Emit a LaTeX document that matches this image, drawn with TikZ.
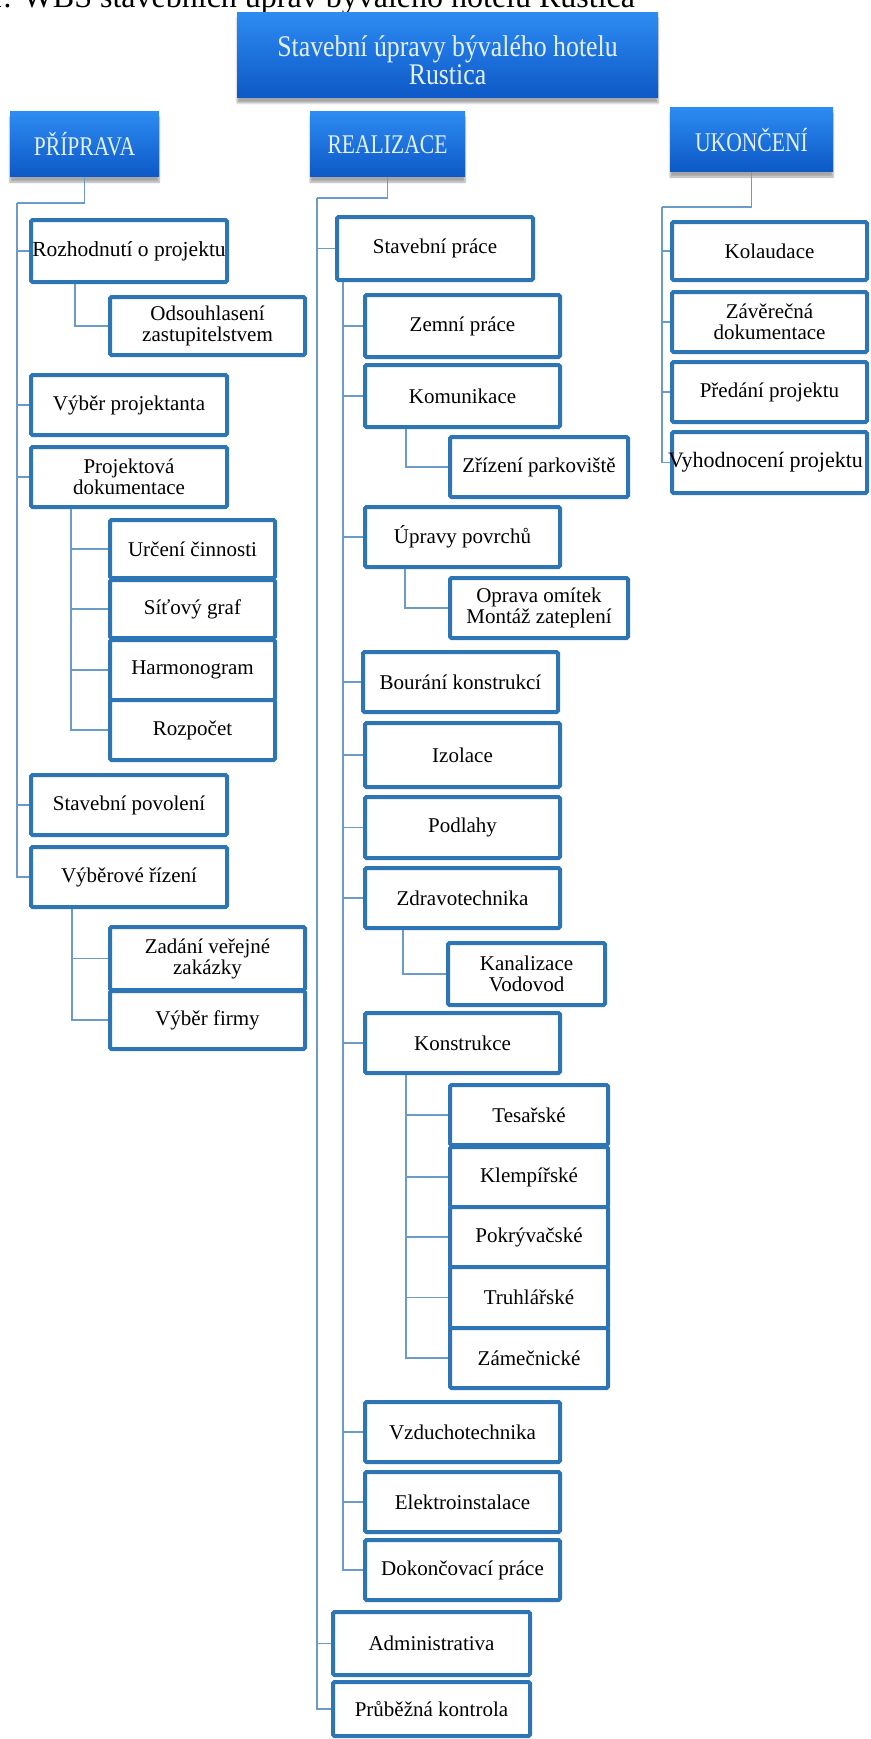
\documentclass[tikz,border=0pt]{standalone}
\usepackage{fontspec}
\setmainfont{Liberation Serif}
\usepackage{graphicx}
\usetikzlibrary{shadows.blur,calc}
\definecolor{bord}{HTML}{2E75B6}
\definecolor{conncol}{HTML}{6C9CC6}
\definecolor{hdtop}{HTML}{2D8BF2}
\definecolor{hdbot}{HTML}{0D58C6}
\definecolor{hdtext}{HTML}{E4F0FF}
\tikzset{
  box/.style={draw=bord, line width=4pt, fill=white, rounded corners=1.5pt, inner sep=0pt,
    font=\fontsize{21}{21}\selectfont, align=center, text=black},
  hdr/.style={inner sep=0pt, top color=hdtop, bottom color=hdbot, text=hdtext,
    blur shadow={shadow blur steps=6, shadow xshift=0pt, shadow yshift=-5pt, shadow opacity=35}},
  conn/.style={draw=conncol, line width=1.4pt},
}
\newcommand\bx[6]{\node[box, minimum width={#4-#2}, minimum height={#5-#3}] (#1) at ({(#2+#4)/2},{(#3+#5)/2}) {#6};}
\newcommand\hx[6]{\node[hdr, minimum width={#4-#2}, minimum height={#5-#3}] (#1) at ({(#2+#4)/2},{(#3+#5)/2}) {#6};}
\newcommand\hd[1]{\scalebox{0.8}[1]{\fontsize{27}{27}\selectfont #1}}
\begin{document}
\begin{tikzpicture}[x=1pt,y=-1pt]
\useasboundingbox (0,0) rectangle (870,1739);
% caption (cut off at top)
\node[anchor=base west, inner sep=0pt, font=\fontsize{32}{32}\selectfont] (cap) at (-13,8) {1: WBS stavebních úprav bývalého hotelu Rustica};
% headers
\hx{title}{237}{13}{658}{98}{\raisebox{-9pt}[\height][\depth]{\scalebox{0.86}[1]{\fontsize{30}{27}\selectfont\begin{tabular}{@{}c@{}}Stavební úpravy bývalého hotelu\\Rustica\end{tabular}}}}
\hx{prip}{10}{112}{159}{177}{\hd{PŘÍPRAVA}}
\hx{real}{310}{112}{465}{177}{\hd{REALIZACE}}
\hx{ukon}{670}{108}{833}{172}{\hd{UKONČENÍ}}
% left column
\bx{rozh}{31}{220}{227}{282}{\makebox[0pt]{\fontsize{21.5}{21}\selectfont Rozhodnutí o projektu}}
\bx{odso}{110}{297}{305}{355}{Odsouhlasení\\zastupitelstvem}
\bx{vybp}{31}{375}{227}{435}{Výběr projektanta}
\bx{proj}{31}{447}{227}{507}{Projektová\\dokumentace}
\bx{urc}{110}{520}{275}{578}{Určení činnosti}
\bx{sit}{110}{580}{275}{638}{Síťový graf}
\bx{harm}{110}{640}{275}{700}{Harmonogram}
\bx{rozp}{110}{700}{275}{760}{Rozpočet}
\bx{stpov}{31}{775}{227}{835}{Stavební povolení}
\bx{vyr}{31}{847}{227}{907}{Výběrové řízení}
\bx{zad}{110}{927}{305}{990}{Zadání veřejné\\zakázky}
\bx{vfir}{110}{991}{305}{1049}{Výběr firmy}
% middle column
\bx{stp}{337}{217}{533}{280}{Stavební práce}
\bx{zem}{365}{295}{560}{357}{Zemní práce}
\bx{kom}{365}{365}{560}{427}{Komunikace}
\bx{zriz}{450}{437}{628}{497}{Zřízení parkoviště}
\bx{upr}{365}{507}{560}{567}{Úpravy povrchů}
\bx{opr}{450}{578}{628}{638}{Oprava omítek\\Montáž zateplení}
\bx{bour}{363}{652}{558}{712}{Bourání konstrukcí}
\bx{izo}{365}{723}{560}{787}{Izolace}
\bx{podl}{365}{797}{560}{858}{Podlahy}
\bx{zdr}{365}{868}{560}{928}{Zdravotechnika}
\bx{kan}{448}{943}{605}{1005}{Kanalizace\\Vodovod}
\bx{kons}{365}{1013}{560}{1073}{Konstrukce}
\bx{tes}{450}{1085}{608}{1145}{Tesařské}
\bx{kle}{450}{1147}{608}{1207}{Klempířské}
\bx{pok}{450}{1207}{608}{1267}{Pokrývačské}
\bx{tru}{450}{1267}{608}{1328}{Truhlářské}
\bx{zam}{450}{1328}{608}{1388}{Zámečnické}
\bx{vzd}{365}{1402}{560}{1462}{Vzduchotechnika}
\bx{ele}{365}{1472}{560}{1532}{Elektroinstalace}
\bx{dok}{365}{1540}{560}{1600}{Dokončovací práce}
\bx{adm}{333}{1612}{530}{1675}{Administrativa}
\bx{prub}{333}{1682}{530}{1736}{Průběžná kontrola}
% right column
\bx{kol}{672}{222}{867}{280}{Kolaudace}
\bx{zav}{672}{292}{867}{352}{Závěrečná\\dokumentace}
\bx{pred}{672}{362}{867}{422}{Předání projektu}
\bx{vyh}{672}{432}{867}{493}{\makebox[0pt]{\hspace*{-8pt}\fontsize{22}{21}\selectfont Vyhodnocení projektu}}
% trunk coordinates
\coordinate (tP) at (17,203);
\coordinate (tR) at (317,198);
\coordinate (tU) at (662,207);
\coordinate (sRozh) at ($(rozh.south west)+(46,0)$);
\coordinate (sProj) at ($(proj.south west)+(42,0)$);
\coordinate (sVyr) at ($(vyr.south west)+(43,0)$);
\coordinate (sStp) at ($(stp.south west)+(8,0)$);
\coordinate (sKom) at ($(kom.south west)+(43,0)$);
\coordinate (sUpr) at ($(upr.south west)+(42,0)$);
\coordinate (sZdr) at ($(zdr.south west)+(40,0)$);
\coordinate (sKons) at ($(kons.south west)+(43,0)$);
\draw[conn] (prip.south) |- (tP);
\foreach \c in {rozh,vybp,proj,stpov,vyr} \draw[conn] (tP) |- (\c.west);
\draw[conn] (sRozh) |- (odso.west);
\foreach \c in {urc,sit,harm,rozp} \draw[conn] (sProj) |- (\c.west);
\foreach \c in {zad,vfir} \draw[conn] (sVyr) |- (\c.west);
\draw[conn] (real.south) |- (tR);
\foreach \c in {stp,adm,prub} \draw[conn] (tR) |- (\c.west);
\foreach \c in {zem,kom,upr,bour,izo,podl,zdr,kons,vzd,ele,dok} \draw[conn] (sStp) |- (\c.west);
\draw[conn] (sKom) |- (zriz.west);
\draw[conn] (sUpr) |- (opr.west);
\draw[conn] (sZdr) |- (kan.west);
\foreach \c in {tes,kle,pok,tru,zam} \draw[conn] (sKons) |- (\c.west);
\draw[conn] (ukon.south) |- (tU);
\foreach \c in {kol,zav,pred,vyh} \draw[conn] (tU) |- (\c.west);
\end{tikzpicture}
\end{document}
